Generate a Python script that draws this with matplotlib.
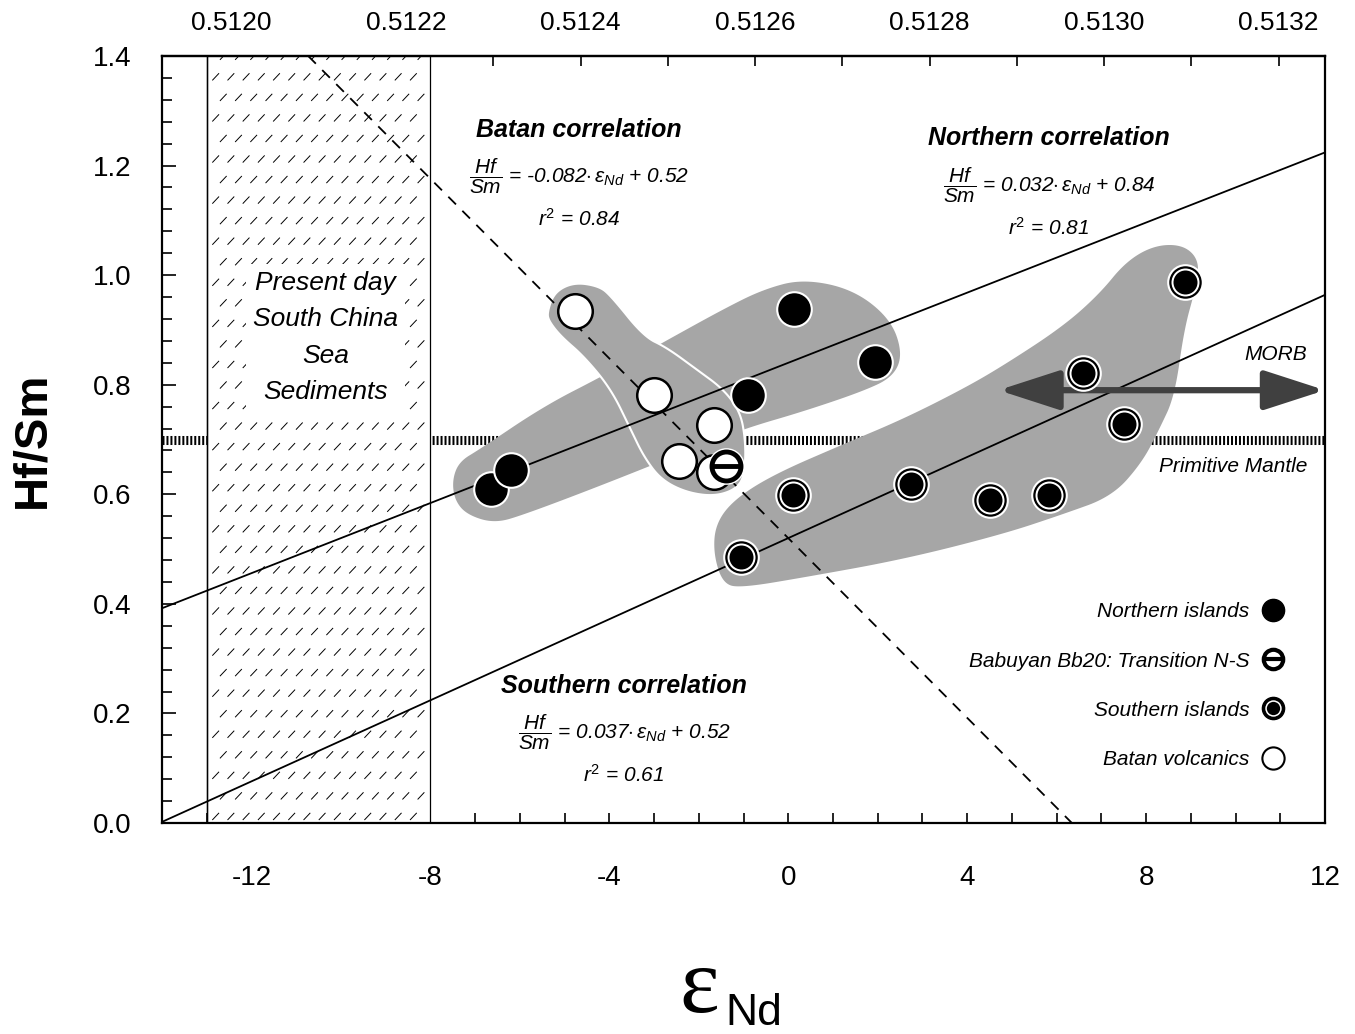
import numpy as np
import matplotlib
matplotlib.use("Agg")
import matplotlib.pyplot as plt
from matplotlib.lines import Line2D
from matplotlib.patches import Polygon, Rectangle
from matplotlib.collections import LineCollection
from matplotlib.legend_handler import HandlerTuple
from matplotlib import font_manager

avail = {f.name for f in font_manager.fontManager.ttflist}
NARROW = 'Liberation Sans Narrow' if 'Liberation Sans Narrow' in avail else 'Liberation Sans'
plt.rcParams['font.family'] = [NARROW, 'DejaVu Sans']
plt.rcParams['mathtext.fontset'] = 'custom'
plt.rcParams['mathtext.rm'] = NARROW
plt.rcParams['mathtext.it'] = NARROW + ':italic'
plt.rcParams['mathtext.bf'] = NARROW + ':bold'

# ---------------- data ----------------
northern_eps = [-6.64, -6.19, 0.13, -0.89, 1.94]
northern_hfsm = [0.609, 0.645, 0.938, 0.781, 0.841]

batan_eps = [-4.77, -3.01, -1.65, -2.45, -1.67]
batan_hfsm = [0.934, 0.782, 0.727, 0.660, 0.640]

babuyan_eps = [-1.40]
babuyan_hfsm = [0.651]

southern_eps = [-1.05, 0.11, 2.74, 4.52, 5.84, 6.59, 7.51, 8.86]
southern_hfsm = [0.486, 0.598, 0.618, 0.590, 0.598, 0.821, 0.728, 0.987]

# regression (slope, intercept)
north_fit = (0.032, 0.84)
south_fit = (0.037, 0.52)
batan_fit = (-0.082, 0.52)

primitive_mantle = 0.70
morb_range = (4.7, 12.0)
morb_level = 0.79
sediment_range = (-13.0, -8.0)

# field outlines (eps, Hf/Sm)
north_field_eps = [-7.51, -7.35, -6.90, -5.46, -4.12, -2.78, -1.45, -0.56, 0.33, 1.45, 2.29, 2.56,
                   2.34, 1.67, 0.33, -0.89, -1.89, -4.12, -5.90, -6.57, -7.19, -7.46]
north_field_hfsm = [0.627, 0.660, 0.682, 0.761, 0.817, 0.878, 0.938, 0.974, 0.993, 0.974, 0.920, 0.856,
                    0.814, 0.788, 0.751, 0.722, 0.691, 0.618, 0.563, 0.547, 0.563, 0.590]

batan_field_eps = [-5.39, -5.23, -4.79, -4.23, -3.96, -3.23, -2.72, -2.05, -1.45, -1.07, -0.96, -0.96,
                   -1.07, -1.60, -2.27, -2.85, -3.23, -3.52, -3.96, -4.57, -5.08, -5.35]
batan_field_hfsm = [0.932, 0.969, 0.987, 0.980, 0.962, 0.888, 0.868, 0.828, 0.792, 0.750, 0.700, 0.651,
                    0.614, 0.596, 0.603, 0.627, 0.669, 0.718, 0.792, 0.852, 0.888, 0.916]

south_field_eps = [-1.67, -1.63, -1.22, -0.33, 1.22, 2.56, 3.90, 4.79, 6.12, 6.95, 7.55, 8.20, 8.85,
                   9.20, 9.10, 8.85, 8.64, 8.29, 7.91, 7.24, 6.12, 4.79, 2.56, 0.33, -1.00, -1.45]
south_field_hfsm = [0.490, 0.545, 0.590, 0.636, 0.691, 0.737, 0.792, 0.834, 0.905, 0.965, 1.025, 1.055, 1.055,
                    1.025, 0.974, 0.901, 0.779, 0.718, 0.658, 0.596, 0.563, 0.527, 0.481, 0.448, 0.430, 0.435]

x_ticks = [-12, -8, -4, 0, 4, 8, 12]
y_ticks = [0.0, 0.2, 0.4, 0.6, 0.8, 1.0, 1.2, 1.4]
top_ticks = [0.5120, 0.5122, 0.5124, 0.5126, 0.5128, 0.5130, 0.5132]
CHUR = 0.512638

# ---------------- helpers ----------------
def chaikin(xs, ys, n=4):
    pts = np.column_stack([xs, ys]).astype(float)
    for _ in range(n):
        nxt = np.roll(pts, -1, axis=0)
        q = 0.75 * pts + 0.25 * nxt
        r = 0.25 * pts + 0.75 * nxt
        pts = np.empty((2 * len(q), 2))
        pts[0::2] = q
        pts[1::2] = r
    return pts

# ---------------- figure ----------------
fig = plt.figure(figsize=(13.55, 10.34), dpi=100)
ax = fig.add_axes([162 / 1355, 1 - 823 / 1034, (1325 - 162) / 1355, (823 - 56) / 1034])
xmin, xmax, ymin, ymax = -14, 12, 0.0, 1.4
ax.set_xlim(xmin, xmax)
ax.set_ylim(ymin, ymax)

# primitive mantle line
ax.plot([xmin, xmax], [primitive_mantle] * 2, color='black', lw=6.5, solid_capstyle='butt',
        dashes=(0.22, 0.22), dash_capstyle='butt', zorder=1)

# sediment box
ax.add_patch(Rectangle((sediment_range[0], ymin), sediment_range[1] - sediment_range[0], ymax - ymin,
                       facecolor='white', edgecolor='black', lw=0.9, zorder=2))
ax.axvline(sediment_range[0], color='black', lw=1.0, zorder=2.1)
# dashed-hatch texture
segs = []
xs_h = np.arange(sediment_range[0] + 0.2, sediment_range[1], 0.34)
ys_h = np.arange(ymin + 0.012, ymax, 0.0375)
for j, yy in enumerate(ys_h):
    off = (j % 2) * 0.17
    for xx in xs_h:
        cx = xx + off
        if cx > sediment_range[1] - 0.05:
            continue
        segs.append([(cx - 0.075, yy - 0.0065), (cx + 0.075, yy + 0.0065)])
ax.add_collection(LineCollection(segs, colors='black', linewidths=0.7, zorder=2.2))

# fields
grey = '#a6a6a6'
for fe, fh, ec, lw, z in [(north_field_eps, north_field_hfsm, 'none', 0, 2.5),
                          (south_field_eps, south_field_hfsm, 'none', 0, 2.5),
                          (batan_field_eps, batan_field_hfsm, 'white', 1.5, 2.6)]:
    pts = chaikin(fe, fh)
    ax.add_patch(Polygon(pts, closed=True, facecolor=grey, edgecolor=ec, lw=lw, zorder=z))

# sediment label
ax.text(-10.35, 0.886, 'Present day\nSouth China\nSea\nSediments', ha='center', va='center',
        fontsize=19, style='italic', linespacing=1.65, zorder=3,
        bbox=dict(facecolor='white', edgecolor='none', pad=5))

# regression lines
xx = np.array([xmin, xmax])
ax.plot(xx, north_fit[0] * xx + north_fit[1], color='black', lw=1.3, zorder=4)
ax.plot(xx, south_fit[0] * xx + south_fit[1], color='black', lw=1.3, zorder=4)
xb = np.array([(ymax - batan_fit[1]) / batan_fit[0], (ymin - batan_fit[1]) / batan_fit[0]])
ax.plot(xb, batan_fit[0] * xb + batan_fit[1], color='black', lw=1.3, dashes=(6, 5), zorder=4)

# MORB arrow
ax.annotate('', xy=(morb_range[1], morb_level), xytext=(morb_range[0], morb_level),
            arrowprops=dict(arrowstyle='<|-|>,head_length=1.7,head_width=0.55', lw=4.5,
                            color='#404040', mutation_scale=22, shrinkA=0, shrinkB=0), zorder=4.5)
ax.text(10.9, 0.855, 'MORB', ha='center', va='center', fontsize=15, style='italic')
ax.text(9.95, 0.651, 'Primitive Mantle', ha='center', va='center', fontsize=15, style='italic')

# points
S = 620
ax.scatter(northern_eps, northern_hfsm, s=S, c='black', edgecolors='white', linewidths=1.5, zorder=6)
ax.scatter(batan_eps, batan_hfsm, s=S, c='white', edgecolors='black', linewidths=1.8, zorder=6)
ax.scatter(southern_eps, southern_hfsm, s=S, c='black', edgecolors='white', linewidths=1.5, zorder=6)
ax.scatter(southern_eps, southern_hfsm, s=(28 * 0.72) ** 2, c='white', linewidths=0, zorder=6.1)
ax.scatter(southern_eps, southern_hfsm, s=(24 * 0.72) ** 2, c='black', linewidths=0, zorder=6.2)
ax.scatter(babuyan_eps, babuyan_hfsm, s=S, c='white', edgecolors='white', linewidths=1.5, zorder=6.3)
ax.scatter(babuyan_eps, babuyan_hfsm, s=(29 * 0.72) ** 2, c='white', edgecolors='black', linewidths=3.5, zorder=6.4)
ax.scatter(babuyan_eps, babuyan_hfsm, s=(28 * 0.72) ** 2, marker='_', c='black', linewidths=3.5, zorder=6.5)

# correlation annotations
def corr_block(x, y, title, slope, icpt, r2):
    ax.text(x, y, title, ha='center', va='center', fontsize=18, style='italic', weight='bold',
            family=['Liberation Sans', 'DejaVu Sans'], zorder=7)
    ax.text(x, y - 0.085, r'$\dfrac{Hf}{Sm}$' + f' = {slope:.3f}' + r'$\cdot\,\varepsilon_{Nd}$' + f' + {icpt:.2f}',
            ha='center', va='center', fontsize=15, style='italic', zorder=7)
    ax.text(x, y - 0.163, r'$r^2$' + f' = {r2:.2f}', ha='center', va='center',
            fontsize=15, style='italic', zorder=7)

corr_block(-4.68, 1.265, 'Batan correlation', batan_fit[0], batan_fit[1], 0.84)
corr_block(5.83, 1.25, 'Northern correlation', north_fit[0], north_fit[1], 0.81)
corr_block(-3.67, 0.25, 'Southern correlation', south_fit[0], south_fit[1], 0.61)

# legend
ms = 16
h_north = Line2D([], [], ls='none', marker='o', ms=ms, mfc='black', mec='black')
h_bab = (Line2D([], [], ls='none', marker='o', ms=ms - 2, mfc='white', mec='black', mew=3),
         Line2D([], [], ls='none', marker='_', ms=ms - 3, mec='black', mew=3))
h_south = (Line2D([], [], ls='none', marker='o', ms=ms, mfc='black', mec='black'),
           Line2D([], [], ls='none', marker='o', ms=ms * 0.74, mfc='white', mec='none'),
           Line2D([], [], ls='none', marker='o', ms=ms * 0.6, mfc='black', mec='none'))
h_batan = Line2D([], [], ls='none', marker='o', ms=ms, mfc='white', mec='black', mew=1.5)
leg = ax.legend([h_north, h_bab, h_south, h_batan],
                ['Northern islands', 'Babuyan Bb20: Transition N-S', 'Southern islands', 'Batan volcanics'],
                handler_map={tuple: HandlerTuple(ndivide=1)}, markerfirst=False, frameon=False,
                loc='lower right', bbox_to_anchor=(0.98, 0.046), prop=dict(size=15, style='italic'),
                handlelength=1.0, handletextpad=0.6, labelspacing=1.45)
leg.set_zorder(8)

# axes styling
for sp in ax.spines.values():
    sp.set_linewidth(1.6)
ax.set_xticks(x_ticks)
ax.set_xticklabels([f'{t:d}' for t in x_ticks])
ax.set_xticks(np.arange(-13, 13, 1), minor=True)
ax.set_yticks(y_ticks)
ax.set_yticklabels([f'{t:.1f}' for t in y_ticks])
ax.set_yticks(np.arange(0, 1.41, 0.04), minor=True)
ax.tick_params(axis='both', which='both', direction='in', top=False, right=False, labelsize=20)
ax.tick_params(axis='x', which='major', length=7, width=1.2, pad=30)
ax.tick_params(axis='x', which='minor', length=7, width=1.2)
ax.tick_params(axis='y', which='major', length=10, width=1.2, pad=22)
ax.tick_params(axis='y', which='minor', length=7, width=1.2)

sec = ax.secondary_xaxis('top', functions=(lambda e: CHUR * (1 + np.asarray(e) / 1e4),
                                           lambda r: (np.asarray(r) / CHUR - 1) * 1e4))
sec.set_xticks(top_ticks)
sec.set_xticklabels([f'{t:.4f}' for t in top_ticks])
sec.set_xticks(np.arange(0.5119, 0.51325, 0.0001), minor=True)
sec.tick_params(axis='x', which='both', direction='in', length=7, width=1.2, labelsize=19, pad=15)
sec.spines['top'].set_linewidth(1.6)

ax.set_ylabel('Hf/Sm', fontsize=34, weight='bold', family=['Liberation Sans', 'DejaVu Sans'], labelpad=28)

# x label: epsilon Nd
fig.text(699 / 1355, 1 - 1032 / 1034, 'ε', family=['Liberation Serif', 'DejaVu Serif'], fontsize=68,
         ha='center', va='bottom')
fig.text(754 / 1355, 1 - 1025 / 1034, 'Nd', fontsize=32, ha='center', va='baseline')

fig.savefig('out.png', dpi=100)
